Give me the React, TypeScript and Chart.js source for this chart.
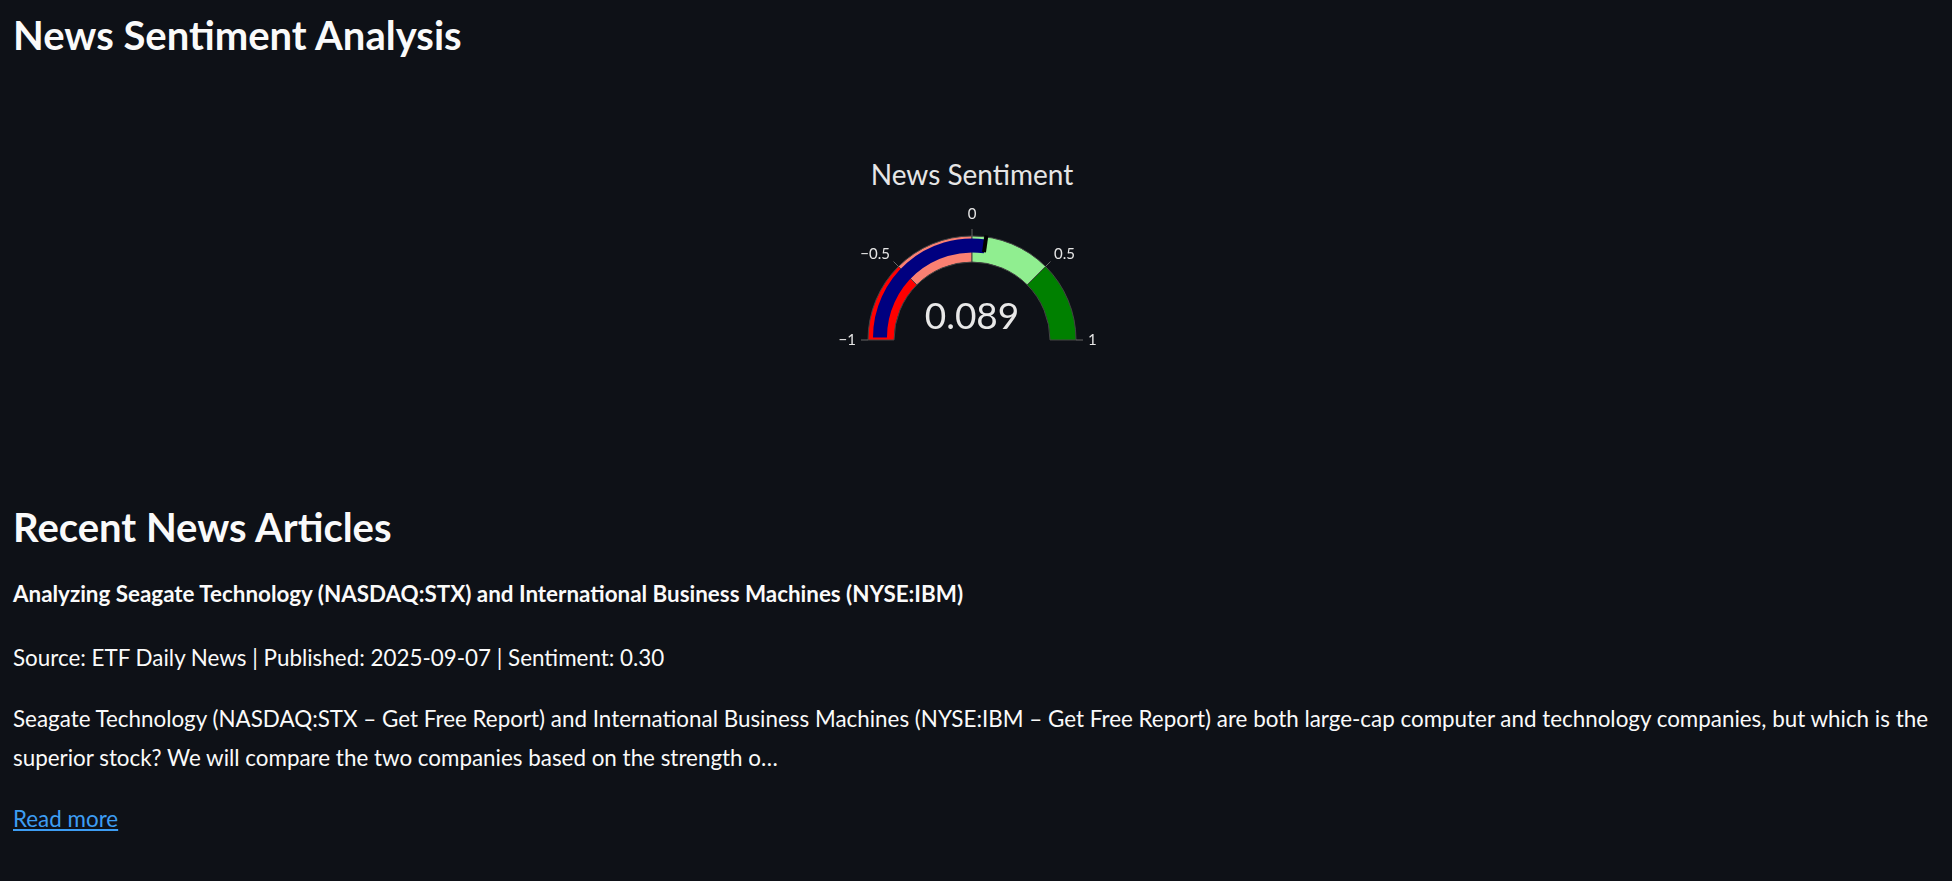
import React, { useEffect, useRef } from "react";
import { Chart, registerables } from "chart.js";
Chart.register(...registerables);

const gaugeTitle = "News Sentiment";
const gaugeMin = -1;
const gaugeMax = 1;
const gaugeValue = 0.089;
const thresholdValue = 0.089;
const stepBounds = [-1, -0.5, 0, 0.5, 1];
const stepColors = ["#ff0000", "#fa8072", "#90ee90", "#008000"];
const tickValues = [-1, -0.5, 0, 0.5, 1];
const tickLabels = ["\u22121", "\u22120.5", "0", "0.5", "1"];

const BG = "#0e1117";
const PAD = { left: 70, right: 70, top: 60, bottom: 20 };
const R_OUT = 104;
const CW = 208 + PAD.left + PAD.right;
const CH = 104 + PAD.top + PAD.bottom;
const CX = 972, CY = 340;

const angleOf = (v: number) => Math.PI + ((v - gaugeMin) / (gaugeMax - gaugeMin)) * Math.PI;

const gaugeDecor = {
  id: "gaugeDecor",
  afterDatasetsDraw(chart: any) {
    const arc = chart.getDatasetMeta(0).data[0];
    const cx = arc.x, cy = arc.y;
    const ctx = chart.ctx;
    ctx.save();
    ctx.strokeStyle = "#666";
    ctx.lineWidth = 1;
    ctx.fillStyle = "#e6e6e6";
    ctx.font = "15px Lato";
    tickValues.forEach((v, i) => {
      const a = angleOf(v);
      const c = Math.cos(a), s = Math.sin(a);
      ctx.beginPath();
      ctx.moveTo(cx + R_OUT * c, cy + R_OUT * s);
      ctx.lineTo(cx + (R_OUT + 7) * c, cy + (R_OUT + 7) * s);
      ctx.stroke();
      const lr = R_OUT + 12;
      const lx = cx + lr * c, ly = cy + lr * s;
      const top = Math.abs(c) < 0.2;
      const side = Math.abs(s) < 0.2;
      ctx.textAlign = top ? "center" : c < 0 ? "right" : "left";
      ctx.textBaseline = side ? "middle" : "bottom";
      ctx.fillText(tickLabels[i], lx, ly + (side ? 0 : top ? -2 : 4));
    });
    ctx.restore();
  },
};

const thresholdPlugin = {
  id: "thresholdLine",
  afterDatasetsDraw(chart: any) {
    const arc = chart.getDatasetMeta(0).data[0];
    const cx = arc.x, cy = arc.y;
    const ctx = chart.ctx;
    const a = angleOf(thresholdValue);
    ctx.save();
    ctx.strokeStyle = "#000000";
    ctx.lineWidth = 4;
    ctx.beginPath();
    ctx.moveTo(cx + 86 * Math.cos(a), cy + 86 * Math.sin(a));
    ctx.lineTo(cx + 103 * Math.cos(a), cy + 103 * Math.sin(a));
    ctx.stroke();
    ctx.fillStyle = "#e8e8e8";
    ctx.font = "37px Lato";
    ctx.textAlign = "center";
    ctx.textBaseline = "alphabetic";
    ctx.fillText(gaugeValue.toFixed(3), cx, cy - 9);
    ctx.restore();
  },
};

const baseOpts = (radius: number, cutout: string) => ({
  responsive: false,
  animation: false as const,
  rotation: -90,
  circumference: 180,
  radius,
  cutout,
  layout: { padding: PAD },
  plugins: { legend: { display: false }, tooltip: { enabled: false } },
  events: [],
});

export default function App() {
  const c1 = useRef<HTMLCanvasElement>(null);
  const c2 = useRef<HTMLCanvasElement>(null);
  useEffect(() => {
    const stepData = stepBounds.slice(1).map((b, i) => b - stepBounds[i]);
    const ch1 = new Chart(c1.current!, {
      type: "doughnut",
      data: {
        datasets: [{ data: stepData, backgroundColor: stepColors, borderColor: "#444", borderWidth: 1 }],
      },
      options: baseOpts(R_OUT, "75%") as any,
      plugins: [gaugeDecor],
    });
    const ch2 = new Chart(c2.current!, {
      type: "doughnut",
      data: {
        datasets: [{
          data: [gaugeValue - gaugeMin, gaugeMax - gaugeValue],
          backgroundColor: ["#000080", "rgba(0,0,0,0)"],
          borderWidth: 0,
        }],
      },
      options: baseOpts(99, "85.9%") as any,
      plugins: [thresholdPlugin],
    });
    return () => { ch1.destroy(); ch2.destroy(); };
  }, []);

  const txt = (top: number, size: number, weight: number, content: React.ReactNode, extra: any = {}) => (
    <div style={{ position: "absolute", left: 13, top, fontSize: size, lineHeight: `${size}px`, fontWeight: weight, whiteSpace: "nowrap", ...extra }}>{content}</div>
  );

  const B = 22.4;
  return (
    <div style={{ position: "fixed", inset: 0, background: BG, color: "#fafafa", fontFamily: "Lato, sans-serif", overflow: "hidden" }}>
      {txt(14.5, 40, 700, "News Sentiment Analysis")}
      <div style={{ position: "absolute", left: CX - 200, width: 400, textAlign: "center", top: 160, fontSize: 28, lineHeight: "28px", color: "#e6e6e6" }}>{gaugeTitle}</div>
      <canvas ref={c1} width={CW} height={CH} style={{ position: "absolute", left: CX - CW / 2, top: CY - 104 - PAD.top, width: CW, height: CH }} />
      <canvas ref={c2} width={CW} height={CH} style={{ position: "absolute", left: CX - CW / 2, top: CY - 104 - PAD.top, width: CW, height: CH }} />
      {txt(506.5, 40, 700, "Recent News Articles")}
      {txt(583, B, 700, "Analyzing Seagate Technology (NASDAQ:STX) and International Business Machines (NYSE:IBM)")}
      {txt(647, B, 400, "Source: ETF Daily News | Published: 2025-09-07 | Sentiment: 0.30")}
      {txt(708, B, 400, "Seagate Technology (NASDAQ:STX \u2013 Get Free Report) and International Business Machines (NYSE:IBM \u2013 Get Free Report) are both large-cap computer and technology companies, but which is the")}
      {txt(747, B, 400, "superior stock? We will compare the two companies based on the strength o\u2026")}
      {txt(808, B, 400, <a href="#" style={{ color: "#3d9df3" }}>Read more</a>)}
    </div>
  );
}
